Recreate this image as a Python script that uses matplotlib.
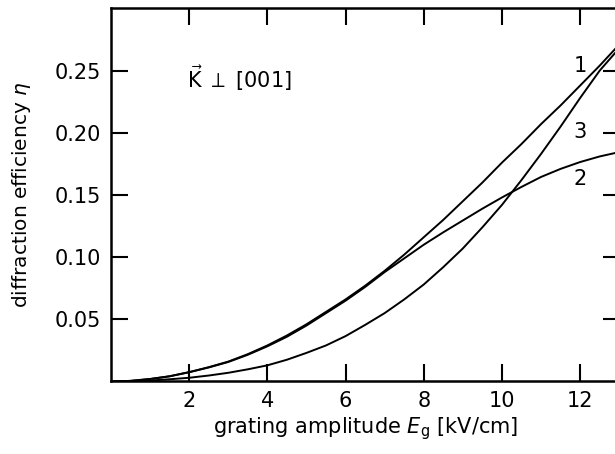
import matplotlib
matplotlib.use("Agg")
import matplotlib.pyplot as plt

# grating amplitude E_g [kV/cm]
e_g = [0, 0.5, 1, 1.5, 2, 2.5, 3, 3.5, 4, 4.5, 5, 5.5, 6, 6.5, 7,
       7.5, 8, 8.5, 9, 9.5, 10, 10.5, 11, 11.5, 12, 12.5, 13]

# diffraction efficiency
eta_1 = [0, 0.0005, 0.002, 0.0042, 0.0075, 0.0115, 0.016, 0.022, 0.029, 0.037,
         0.046, 0.056, 0.066, 0.077, 0.089, 0.102, 0.116, 0.130, 0.145, 0.160,
         0.176, 0.191, 0.207, 0.222, 0.238, 0.254, 0.271]
eta_2 = [0, 0.0005, 0.002, 0.0042, 0.0075, 0.0113, 0.0157, 0.0215, 0.0283, 0.036,
         0.045, 0.055, 0.065, 0.076, 0.088, 0.099, 0.110, 0.120, 0.1295, 0.139,
         0.148, 0.1565, 0.1645, 0.171, 0.1765, 0.181, 0.1845]
eta_3 = [0, 0.0002, 0.0008, 0.0018, 0.003, 0.0048, 0.007, 0.0098, 0.013, 0.0175,
         0.023, 0.029, 0.0365, 0.0455, 0.055, 0.066, 0.078, 0.092, 0.107, 0.124,
         0.142, 0.162, 0.183, 0.205, 0.228, 0.250, 0.268]

curve_names = ['1', '2', '3']
label_pos = [(12.0, 0.254), (12.0, 0.1625), (12.0, 0.2004)]

x_ticks = [2, 4, 6, 8, 10, 12]
y_ticks = [0.05, 0.10, 0.15, 0.20, 0.25]
y_tick_labels = ['0.05', '0.10', '0.15', '0.20', '0.25']

plt.rcParams['font.family'] = ['DejaVu Sans']
plt.rcParams['mathtext.fontset'] = 'dejavusans'

fig = plt.figure(figsize=(6.15, 4.54), dpi=100)
ax = fig.add_axes([0.1805, 0.1597, 0.8276, 0.8216])

for eta in [eta_1, eta_2, eta_3]:
    ax.plot(e_g, eta, color='black', lw=1.4, solid_joinstyle='round')

for name, (px, py) in zip(curve_names, label_pos):
    ax.text(px, py, name, fontsize=15, ha='center', va='center')

ax.text(1.94, 0.236, r'$\vec{\mathrm{K}}\;\perp$ [001]', fontsize=15, ha='left', va='baseline')

ax.set_xlim(0, 13.02)
ax.set_ylim(0, 0.30)
ax.set_xticks(x_ticks)
ax.set_yticks(y_ticks)
ax.set_yticklabels(y_tick_labels)
ax.tick_params(direction='in', length=12, width=1.5, labelsize=15, pad=7,
               top=True, right=True)

for s in ax.spines.values():
    s.set_linewidth(1.8)

ax.set_xlabel(r'grating amplitude $E_{\mathrm{g}}$ [kV/cm]', fontsize=15)
ax.set_ylabel(r'diffraction efficiency $\eta$', fontsize=14.5)
ax.xaxis.set_label_coords(0.5, -0.09)
ax.yaxis.set_label_coords(-0.153, 0.5)

fig.savefig('out.png', dpi=100)
